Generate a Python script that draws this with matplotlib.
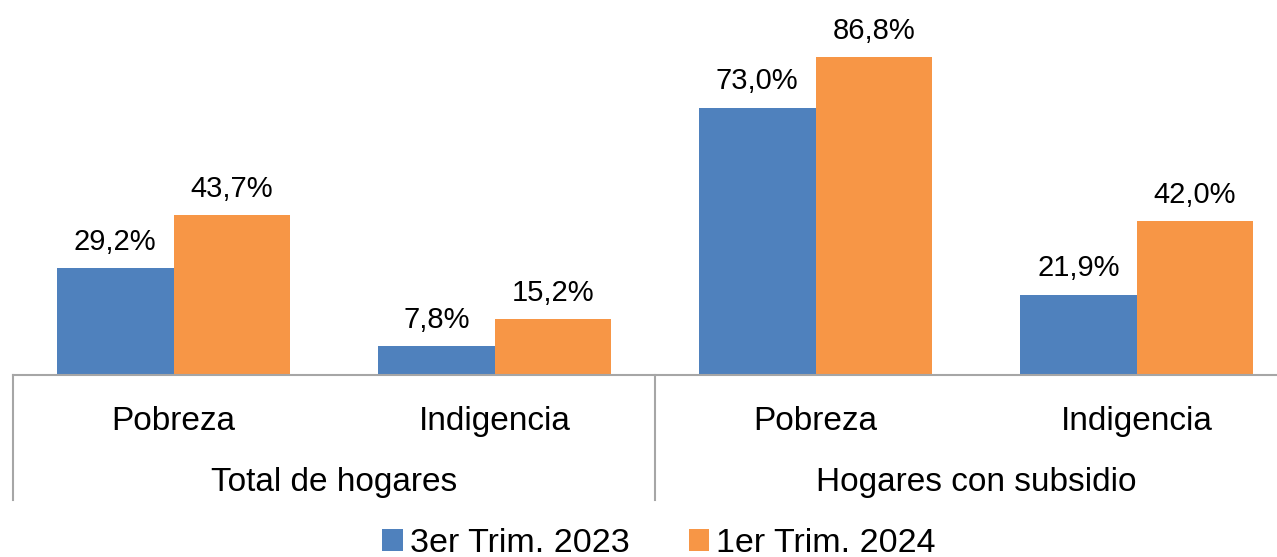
import matplotlib.pyplot as plt
import numpy as np
from matplotlib import transforms

plt.rcParams["font.family"] = ["Liberation Sans", "DejaVu Sans"]

# Data
groups = ["Total de hogares", "Hogares con subsidio"]
categories = ["Pobreza", "Indigencia", "Pobreza", "Indigencia"]
series_names = ["3er Trim. 2023", "1er Trim. 2024"]
values_2023 = [29.2, 7.8, 73.0, 21.9]
values_2024 = [43.7, 15.2, 86.8, 42.0]

colors = ["#4F81BD", "#F79646"]

fig = plt.figure(figsize=(12.77, 5.57), dpi=100)
ax = fig.add_axes([0.0102, 0.3268, 1.0055, 0.657])

x = np.arange(len(categories))
bar_width = 0.363

for i, (vals, name) in enumerate(zip([values_2023, values_2024], series_names)):
    pos = x + (i - 0.5) * bar_width
    bars = ax.bar(pos, vals, bar_width, color=colors[i], label=name)
    for xi, v in zip(pos, vals):
        ax.annotate(f"{v:.1f}%".replace(".", ","), (xi, v), xytext=(0, 9),
                    textcoords="offset points", ha="center", va="bottom",
                    fontsize=21)

ax.set_xlim(-0.5, len(categories) - 0.5)
ax.set_ylim(0, 100)
ax.set_yticks([])
ax.set_xticks(x)
ax.set_xticklabels(categories, fontsize=24)
ax.tick_params(axis="x", length=0, pad=22)

for side in ["top", "right", "left"]:
    ax.spines[side].set_visible(False)
ax.spines["bottom"].set_color("#A6A6A6")
ax.spines["bottom"].set_linewidth(1.5)

# two-level axis: group labels and separators
trans = transforms.blended_transform_factory(ax.transData, ax.transAxes)
for g, name in enumerate(groups):
    ax.text(2 * g + 0.5, -0.295, name, transform=trans, ha="center",
            va="center", fontsize=24)
for sx in [-0.5, 1.5, 3.5]:
    ax.plot([sx, sx], [0, -0.342], transform=trans, color="#A6A6A6",
            linewidth=1.5, clip_on=False)

fig.legend(loc="center", bbox_to_anchor=(0.516, 0.024), ncol=2, frameon=False,
           fontsize=24.5, handlelength=0.6, handleheight=0.6, handletextpad=0.2,
           columnspacing=1.75)

fig.savefig("out.png", dpi=100)
